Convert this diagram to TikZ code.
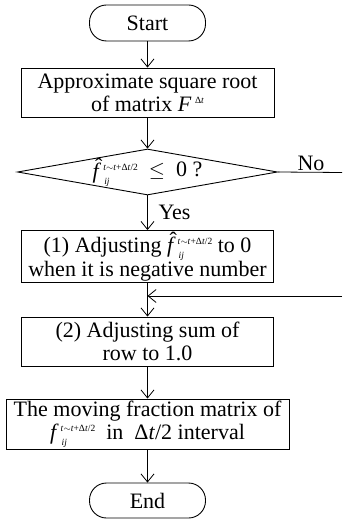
\documentclass[tikz,border=0pt]{standalone}
\usepackage{amsmath}
\usepackage{fontspec}
\setmainfont{Liberation Serif}
\usetikzlibrary{arrows.meta,shapes.geometric}
\newcommand\supsz{\fontsize{9.5}{9.5}\selectfont}
\newcommand\fsup{\textit{t}$\sim$\textit{t}+Δ\textit{t}/2}
\newcommand\fscripts{\rlap{\raisebox{-6pt}{\supsz\hspace{3pt}\textit{ij}}}\raisebox{8pt}{\supsz\hspace{2pt}\fsup}}
\newcommand\fhat{\rlap{\hspace{2.5pt}\raisebox{5pt}{ˆ}}\textit{f}\fscripts}
\newcommand\fplain{\textit{f}\fscripts}
\begin{document}
\begin{tikzpicture}[x=1pt,y=-1pt,
  font=\fontsize{22}{23}\selectfont,
  box/.style={draw, line width=0.9pt, inner sep=0pt, align=center},
  term/.style={draw, line width=0.9pt, rounded corners=17pt, inner sep=0pt, minimum width=116pt},
  arr/.style={line width=0.8pt, -{Straight Barb[length=8pt,width=13pt,line width=0.8pt]}},
  ln/.style={line width=0.8pt}]
\useasboundingbox (0,0) rectangle (342,521);

\node[term, minimum height=36pt] (start) at (147.5,23) {Start};
\node[box, minimum width=253pt, minimum height=49pt] (b1) at (147.5,92.5)
  {Approximate square root\\ of matrix \textit{F}\,\raisebox{8pt}{\supsz Δ\textit{t}}};
\node[box, shape=diamond, minimum width=260pt, minimum height=46pt] (dia) at (147.5,172)
  {\makebox[0pt]{\raisebox{-2pt}{\fhat}\ \ $\leq$\ \ 0 ?}};
\node[box, minimum width=252pt, minimum height=52pt] (b2) at (147.5,256.5)
  {(1) Adjusting \fhat\ to 0\\ when it is negative number};
\node[box, minimum width=252pt, minimum height=49pt] (b3) at (147.5,341.5)
  {(2) Adjusting sum of\\ row to 1.0};
\node[box, minimum width=283pt, minimum height=50pt] (b4) at (147.5,424)
  {The moving fraction matrix of\\ \fplain\ \ in\ \ Δ\textit{t}/2 interval};
\node[term, minimum height=35pt] (end) at (147.5,500.5) {End};

\node[anchor=west] (yes) at (155,212) {Yes};
\node[anchor=south] (no) at (311,174) {No};

\coordinate (noend) at (342,172.5);
\coordinate (fbstart) at (342,296);
\coordinate (fbend) at (147.5,296);

\draw[arr] (start) -- (b1);
\draw[arr] (b1) -- (dia);
\draw[arr] (dia) -- (b2);
\draw[arr] (b2) -- (b3);
\draw[arr] (b3) -- (b4);
\draw[arr] (b4) -- (end);
\draw[ln] (dia.east) -- (noend);
\draw[arr] (fbstart) -- (fbend);
\end{tikzpicture}
\end{document}
